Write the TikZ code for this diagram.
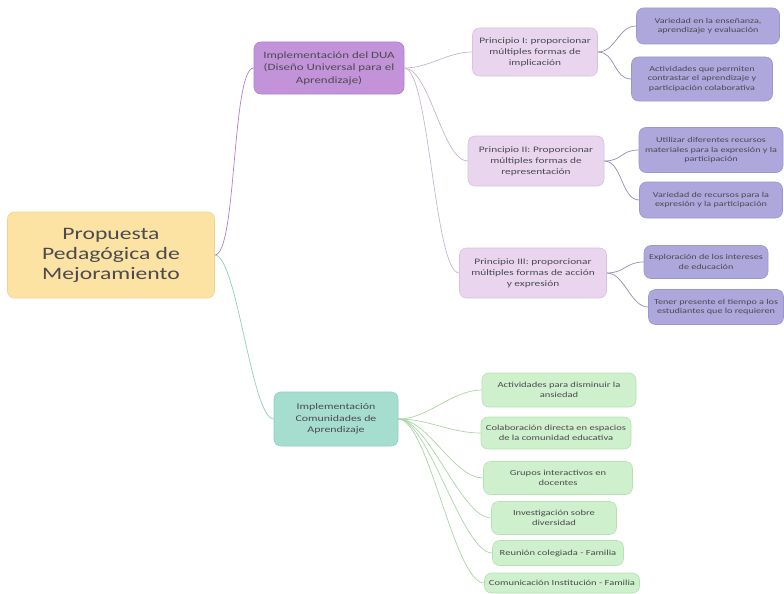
\documentclass[tikz,border=0pt]{standalone}
\usepackage{fontspec}
\setmainfont[FakeStretch=1.35]{Carlito}
\usetikzlibrary{positioning}

\definecolor{textgray}{HTML}{4A4A50}
\definecolor{rootfill}{HTML}{FCE3A4}
\definecolor{rootdraw}{HTML}{F2D38E}
\definecolor{duafill}{HTML}{C393DA}
\definecolor{duadraw}{HTML}{B07FCB}
\definecolor{princfill}{HTML}{E9D6EE}
\definecolor{princdraw}{HTML}{D9C2E0}
\definecolor{leaffill}{HTML}{ADA7DC}
\definecolor{leafdraw}{HTML}{9C96CF}
\definecolor{comufill}{HTML}{A5DECF}
\definecolor{comudraw}{HTML}{8ED0BF}
\definecolor{greenfill}{HTML}{CFF0CC}
\definecolor{greendraw}{HTML}{B3E3AF}

\begin{document}
\begin{tikzpicture}[x=1pt,y=-1pt,
    box/.style={rounded corners=7pt, align=center, text=textgray, inner sep=2pt, line width=0.6pt},
    rootbox/.style={box, fill=rootfill, draw=rootdraw, font=\fontsize{17.5}{20}\selectfont,
        minimum width=207pt, minimum height=86pt},
    duabox/.style={box, fill=duafill, draw=duadraw, font=\fontsize{9.6}{12.5}\selectfont},
    princbox/.style={box, fill=princfill, draw=princdraw, font=\fontsize{8.4}{11}\selectfont},
    leafbox/.style={box, fill=leaffill, draw=leafdraw, font=\fontsize{7.5}{9.6}\selectfont},
    comubox/.style={box, fill=comufill, draw=comudraw, font=\fontsize{8.8}{11.5}\selectfont},
    greenbox/.style={box, fill=greenfill, draw=greendraw, font=\fontsize{7.8}{10}\selectfont},
    link/.style={line width=0.7pt}
]
    \useasboundingbox (0,0) rectangle (784,594);

    % main idea
    \node[rootbox] (root) at (111,255) {Propuesta\\Pedagógica de\\Mejoramiento};

    % first branch
    \node[duabox, minimum width=150pt, minimum height=52pt] (dua) at (329,68)
        {Implementación del DUA\\(Diseño Universal para el\\Aprendizaje)};

    \node[princbox, minimum width=125pt, minimum height=48pt] (p1) at (535,52)
        {Principio I: proporcionar\\múltiples formas de\\implicación};
    \node[princbox, minimum width=136pt, minimum height=50pt] (p2) at (536,161)
        {Principio II: Proporcionar\\múltiples formas de\\representación};
    \node[princbox, minimum width=147pt, minimum height=50pt] (p3) at (533,273)
        {Principio III: proporcionar\\múltiples formas de acción\\y expresión};

    \node[leafbox, minimum width=143pt, minimum height=36pt] (l1a) at (708,26)
        {Variedad en la enseñanza,\\aprendizaje y evaluación};
    \node[leafbox, minimum width=141pt, minimum height=44pt] (l1b) at (702,79)
        {Actividades que permiten\\contrastar el aprendizaje y\\participación colaborativa};
    \node[leafbox, minimum width=144pt, minimum height=45pt] (l2a) at (711,150)
        {Utilizar diferentes recursos\\materiales para la expresión y la\\participación};
    \node[leafbox, minimum width=143pt, minimum height=36pt] (l2b) at (711,200)
        {Variedad de recursos para la\\expresión y la participación};
    \node[leafbox, minimum width=124pt, minimum height=33pt] (l3a) at (706,262)
        {Exploración de los intereses\\de educación};
    \node[leafbox, minimum width=135pt, minimum height=35pt] (l3b) at (716,307)
        {Tener presente el tiempo a los\\estudiantes que lo requieren};

    % second branch
    \node[comubox, minimum width=124pt, minimum height=54pt] (comu) at (336,419)
        {Implementación\\Comunidades de\\Aprendizaje};

    \node[greenbox, minimum width=154pt, minimum height=34pt] (g1) at (559,390)
        {Actividades para disminuir la\\ansiedad};
    \node[greenbox, minimum width=150pt, minimum height=32pt] (g2) at (556,433)
        {Colaboración directa en espacios\\de la comunidad educativa};
    \node[greenbox, minimum width=149pt, minimum height=33pt] (g3) at (558,478)
        {Grupos interactivos en\\docentes};
    \node[greenbox, minimum width=125pt, minimum height=33pt] (g4) at (554,518)
        {Investigación sobre\\diversidad};
    \node[greenbox, minimum width=131pt, minimum height=25pt] (g5) at (558,553)
        {Reunión colegiada - Familia};
    \node[greenbox, minimum width=155pt, minimum height=20pt] (g6) at (562,583)
        {Comunicación Institución - Familia};

    % connectors
    \draw[link, draw=duadraw] (root.east) .. controls +(22,0) and +(-22,0) .. (dua.west);
    \draw[link, draw=comudraw] (root.east) .. controls +(22,0) and +(-22,0) .. (comu.west);

    \foreach \p in {p1,p2,p3}{
        \draw[link, draw=princdraw!80!gray] (dua.east) .. controls +(25,0) and +(-25,0) .. (\p.west);
    }
    \foreach \p/\l in {p1/l1a,p1/l1b,p2/l2a,p2/l2b,p3/l3a,p3/l3b}{
        \draw[link, draw=leafdraw!60!gray] (\p.east) .. controls +(18,0) and +(-18,0) .. (\l.west);
    }
    \foreach \g in {g1,g2,g3,g4,g5,g6}{
        \draw[link, draw=greendraw!85!gray] (comu.east) .. controls +(30,0) and +(-30,0) .. (\g.west);
    }
\end{tikzpicture}
\end{document}
